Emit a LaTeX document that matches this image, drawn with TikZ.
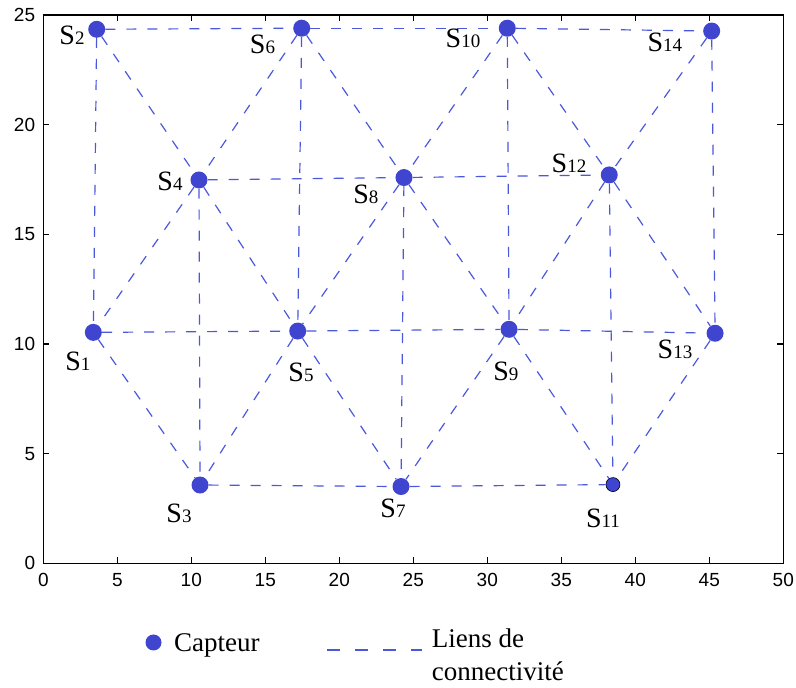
\documentclass[tikz,border=0pt]{standalone}
\usepackage{fontspec}
\setmainfont{Liberation Serif}
\newfontfamily\axisfont{Liberation Sans}
\usepackage{xcolor}
\usetikzlibrary{calc}
\definecolor{capbleu}{HTML}{3F45CF}
\definecolor{lienbleu}{HTML}{4A58DC}
\newcommand{\sname}[1]{{\fontsize{28}{28}\selectfont S}{\fontsize{19}{19}\selectfont #1}}
\tikzset{capteur/.style={circle,fill=capbleu,inner sep=0pt,minimum size=17pt},
  lien/.style={lienbleu,line width=1.2pt,dash pattern=on 10pt off 11pt},
  cadre/.style={black,line width=1.3pt},
  etiq/.style={inner sep=0pt},
  graduation/.style={inner sep=0pt,font=\axisfont\fontsize{19}{19}\selectfont}}

\begin{document}
\begin{tikzpicture}[x=14.8pt,y=21.93pt]
\useasboundingbox (-43.3pt,-124.7pt) rectangle (752.7pt,563.3pt);
% capteurs
\foreach \n/\x/\y in {1/3.38/10.53,2/3.61/24.35,3/10.59/3.57,4/10.52/17.48,5/17.19/10.59,
  6/17.46/24.40,7/24.17/3.50,8/24.37/17.59,9/31.47/10.67,10/31.35/24.40,
  12/38.24/17.71,13/45.39/10.49,14/45.16/24.27}{\node[capteur] (s\n) at (\x,\y) {};}
\node[capteur,draw=black,line width=0.6pt,minimum size=14pt] (s11) at (38.49,3.59) {};
% liens
\foreach \a/\b in {2/6,6/10,10/14,4/8,8/12,1/5,5/9,9/13,3/7,7/11,
  2/1,6/5,10/9,14/13,4/3,8/7,12/11,
  2/4,6/4,6/8,10/8,10/12,14/12,4/1,4/5,8/5,8/9,12/9,12/13,
  1/3,5/3,5/7,9/7,9/11,13/11}{\draw[lien] (s\a) -- (s\b);}
% etiquettes
\foreach \n/\x/\y in {1/2.34/9.23,2/1.94/24.09,3/9.17/2.29,4/8.56/17.43,5/17.41/8.72,
  6/14.81/23.68,7/23.63/2.52,8/21.80/16.84,9/31.26/8.77,10/28.36/23.95,
  11/37.82/2.07,12/35.52/18.25,13/42.68/9.77,14/42.0/23.77}{\node[etiq] (l\n) at (\x,\y) {\sname{\n}};}
% axes
\draw[cadre] (0,0) rectangle (50,25);
\foreach \t in {5,10,...,45}{\draw[cadre] (\t,0) -- ++(0,6pt); \draw[cadre] (\t,25) -- ++(0,-6pt);}
\foreach \t in {5,10,...,20}{\draw[cadre] (0,\t) -- ++(6pt,0); \draw[cadre] (50,\t) -- ++(-6pt,0);}
\foreach \t in {0,5,...,50}{\node[graduation,anchor=north] at ($(\t,0)+(0,-10pt)$) {\t};}
\foreach \t in {0,5,...,25}{\node[graduation,anchor=east] at ($(0,\t)+(-8pt,0)$) {\t};}
% legende
\node[capteur,minimum size=16pt] (legcap) at (110.2pt,-79.2pt) {};
\node[etiq,anchor=base west,font=\fontsize{27}{27}\selectfont] (legcaptxt) at (130.7pt,-88.7pt) {Capteur};
\coordinate (legA) at (283.7pt,-86.7pt);
\coordinate (legB) at (378.7pt,-86.7pt);
\draw[lien,dash pattern=on 13pt off 15pt] (legA) -- (legB);
\node[etiq,anchor=north west,align=left,font=\fontsize{27}{33}\selectfont] (legtxt) at (388.4pt,-65pt) {Liens de\\connectivité};
\end{tikzpicture}
\end{document}
